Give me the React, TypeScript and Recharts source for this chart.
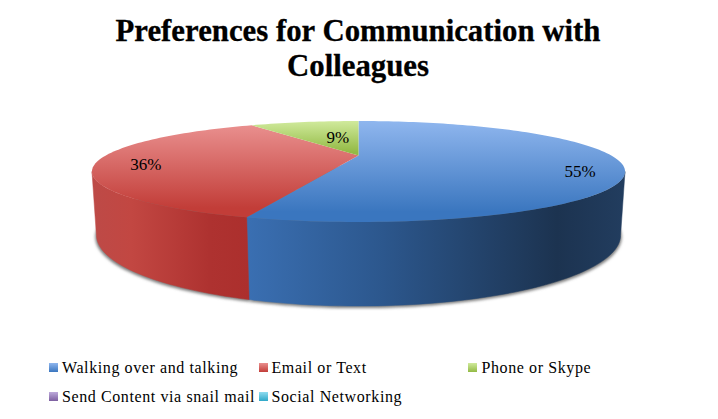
import React from "react";
import { PieChart, Pie, Legend } from "recharts";

const categories = ["Walking over and talking", "Email or Text", "Phone or Skype", "Send Content via snail mail", "Social Networking"];
const values = [55, 36, 9, 0, 0];
const faceLight = ["#8fb6ee", "#e98f8e", "#d0ea9c", "#bdaadb", "#8fdcf0"];
const faceDark = ["#3a76bf", "#c23d38", "#93ba45", "#7d5fa0", "#2fa8c8"];
const titleLines = ["Preferences for Communication with", "Colleagues"];

const data = categories.map((name, i) => ({ name, value: values[i], fill: faceDark[i] }));

// perspective of the disc
const K_TOP = 0.3168, KY_TOP = 45.42, R = 252.8;
const K_BOT = 0.312, KY_BOT = 64.1, R_BOT = 249, DROP = 57.4;
const RAD = Math.PI / 180;
const CX = 358.5, CY = 155.5;

function topPt(cx: number, cy: number, r: number, a: number, f = 1) {
  const u = Math.cos(a * RAD) * f, v = Math.sin(a * RAD) * f;
  const w = 1 + K_TOP * v;
  return [cx + (r * u) / w, cy - (KY_TOP * v) / w];
}
function botPt(cx: number, cy: number, r: number, a: number) {
  const u = Math.cos(a * RAD), v = Math.sin(a * RAD);
  const w = 1 + K_BOT * v;
  return [cx + ((r * R_BOT) / R * u) / w, cy + DROP - (KY_BOT * v) / w];
}
function sweep(a0: number, a1: number) {
  const n = Math.max(2, Math.ceil(Math.abs(a1 - a0) / 1.5));
  return Array.from({ length: n + 1 }, (_, i) => a0 + ((a1 - a0) * i) / n);
}
const toPath = (pts: number[][]) => "M" + pts.map((p) => `${p[0].toFixed(2)},${p[1].toFixed(2)}`).join("L") + "Z";

const bbox = (pts: number[][]) => {
  const ys = pts.map((p) => p[1]);
  return [Math.min(...ys), Math.max(...ys)];
};

function TopFace(props: any) {
  const { cx, cy, outerRadius, startAngle, endAngle, name } = props;
  if (startAngle === endAngle) return null;
  const i = categories.indexOf(name);
  const pts = [[cx, cy], ...sweep(startAngle, endAngle).map((a) => topPt(cx, cy, outerRadius, a))];
  const [y0, y1] = bbox(pts);
  const id = `face${i}`;
  return (
    <g>
      <defs>
        <linearGradient id={id} gradientUnits="userSpaceOnUse" x1={0} x2={0} y1={y0} y2={y1}>
          <stop offset="0" stopColor={faceLight[i]} />
          <stop offset="0.9" stopColor={faceDark[i]} />
          <stop offset="1" stopColor={faceDark[i]} />
        </linearGradient>
      </defs>
      <path d={toPath(pts)} fill={`url(#${id})`} stroke="none" />
    </g>
  );
}

const WALL_L = -161.5, WALL_R = -18.5;
const wallStops = [
  [[0, "#3a6fb2"], [0.36, "#2c578d"], [0.82, "#1c3350"], [1, "#223d5f"]],
  [[0, "#bd4a47"], [0.25, "#c24742"], [0.75, "#ae3230"], [1, "#ac2f2d"]],
];
function wallRange(a0: number, a1: number) {
  const lo = Math.max(Math.min(a0, a1), WALL_L);
  const hi = Math.min(Math.max(a0, a1), WALL_R);
  return hi > lo ? [lo, hi] : null;
}
function Wall(props: any) {
  const { cx, cy, outerRadius, startAngle, endAngle, name } = props;
  const i = categories.indexOf(name);
  if (startAngle === endAngle || i > 1) return null;
  const rng = wallRange(startAngle, endAngle);
  if (!rng) return null;
  const as = sweep(rng[0], rng[1]);
  const pts = [...as.map((a) => topPt(cx, cy, outerRadius, a)), ...as.slice().reverse().map((a) => botPt(cx, cy, outerRadius, a))];
  const xs = pts.map((p) => p[0]);
  const id = `wall${i}`;
  return (
    <g>
      <defs>
        <linearGradient id={id} gradientUnits="userSpaceOnUse" y1={0} y2={0} x1={Math.min(...xs)} x2={Math.max(...xs)}>
          {wallStops[i].map((s, k) => (
            <stop key={k} offset={s[0] as number} stopColor={s[1] as string} />
          ))}
        </linearGradient>
      </defs>
      <path d={toPath(pts)} fill={`url(#${id})`} stroke={`url(#${id})`} strokeWidth={0.5} />
    </g>
  );
}
function Shadow(props: any) {
  const { cx, cy, outerRadius, startAngle, endAngle } = props;
  if (startAngle === endAngle) return null;
  const pts = sweep(startAngle, endAngle).map((a) => {
    const p = botPt(cx, cy, outerRadius, a);
    return [p[0] + (p[0] - cx) * 0.004, p[1] + 2];
  });
  pts.push([cx, cy + DROP]);
  return (
    <g>
      <defs>
        <filter id="soft" x="-20%" y="-20%" width="140%" height="140%">
          <feGaussianBlur stdDeviation="1.6" />
        </filter>
      </defs>
      <path d={toPath(pts)} fill="#7a7a7a" filter="url(#soft)" />
    </g>
  );
}

const labelFrac = [0.85, 0.82, 0.32];
const labelShift = [10, 4, -5];
function PctLabel(props: any) {
  const { cx, cy, outerRadius, midAngle, percent, value, index } = props;
  if (!value) return null;
  const p = topPt(cx, cy, outerRadius, midAngle, labelFrac[index]);
  return (
    <text x={p[0]} y={p[1] + labelShift[index]} textAnchor="middle" dominantBaseline="central"
      fontFamily="'Liberation Serif', serif" fontWeight={400} fontSize={17} fill="#000">
      {`${Math.round(percent * 100)}%`}
    </text>
  );
}

const legendX = [49, 259, 468, 49, 259];
const legendY = [363, 363, 363, 392, 392];
const legendTextX = [62, 271.5, 481.5, 62, 271.5];
function LegendContent({ payload }: any) {
  const seen = new Set<string>();
  const items = (payload || []).filter((p: any) => {
    if (seen.has(p.value)) return false;
    seen.add(p.value);
    return true;
  });
  return (
    <svg width={718} height={419} style={{ position: "absolute", left: 0, top: 0 }}>
      {items.map((p: any) => {
        const i = categories.indexOf(p.value);
        return (
          <g key={p.value}>
            <defs>
              <linearGradient id={`key${i}`} x1={0} x2={0} y1={0} y2={1}>
                <stop offset="0" stopColor={faceLight[i]} />
                <stop offset="1" stopColor={faceDark[i]} />
              </linearGradient>
            </defs>
            <rect x={legendX[i]} y={legendY[i]} width={9} height={9} fill={`url(#key${i})`} />
            <text x={legendTextX[i]} y={legendY[i] + 10} fontFamily="'Liberation Serif', serif" fontWeight={400} fontSize={16} letterSpacing={0.6} fill="#000">{p.value}</text>
          </g>
        );
      })}
    </svg>
  );
}

export default function App() {
  return (
    <div style={{ position: "absolute", left: 0, top: 0, width: 718, height: 419, background: "#fff" }}>
      <PieChart width={718} height={419} margin={{ top: 0, right: 0, bottom: 0, left: 0 }}>
        <text x={358} y={41} textAnchor="middle" fontFamily="'Liberation Serif', serif" fontWeight="bold" fontSize={30.8} stroke="#000" strokeWidth={0.3} fill="#000">{titleLines[0]}</text>
        <text x={358} y={76} textAnchor="middle" fontFamily="'Liberation Serif', serif" fontWeight="bold" fontSize={30.8} stroke="#000" strokeWidth={0.3} fill="#000">{titleLines[1]}</text>
        <Pie data={data} dataKey="value" nameKey="name" cx={CX} cy={CY} outerRadius={R} startAngle={90} endAngle={-270} isAnimationActive={false} legendType="none" shape={Shadow} stroke="none" />
        <Pie data={data} dataKey="value" nameKey="name" cx={CX} cy={CY} outerRadius={R} startAngle={90} endAngle={-270} isAnimationActive={false} legendType="none" shape={Wall} stroke="none" />
        <Pie data={data} dataKey="value" nameKey="name" cx={CX} cy={CY} outerRadius={R} startAngle={90} endAngle={-270} isAnimationActive={false} shape={TopFace} stroke="none" label={PctLabel} labelLine={false} />
        <Legend content={LegendContent} wrapperStyle={{ position: "absolute", left: 0, top: 0, width: 718, height: 419 }} />
      </PieChart>
    </div>
  );
}
